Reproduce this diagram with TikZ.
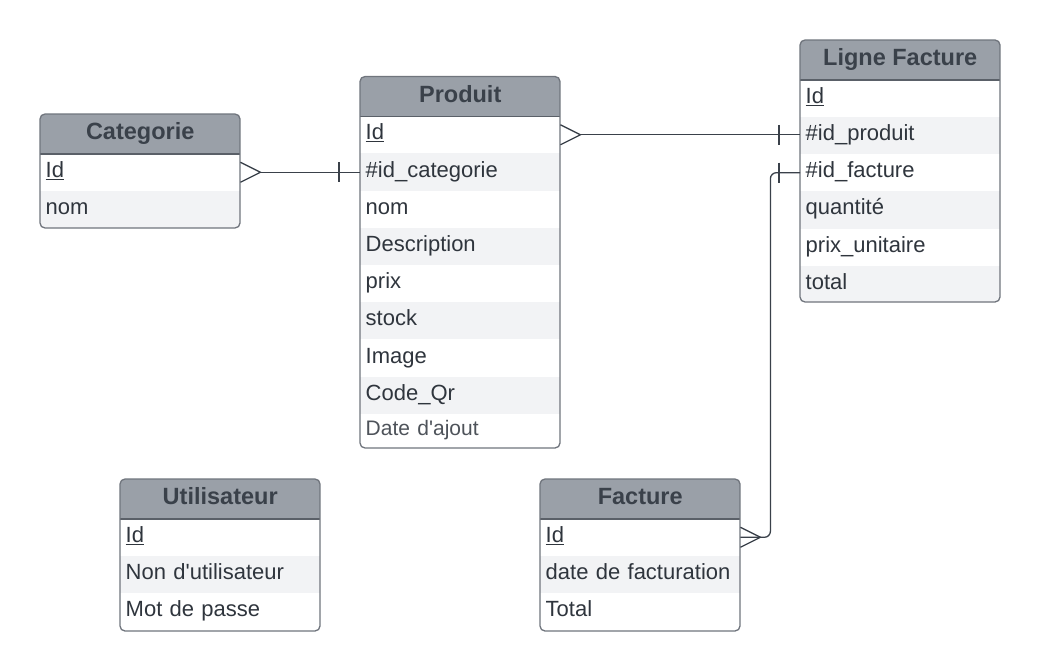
\documentclass[tikz,border=0pt]{standalone}
\usepackage{fontspec}
\setmainfont{Liberation Sans}
\usetikzlibrary{calc}
\definecolor{hdrfill}{HTML}{9AA0A8}
\definecolor{bordc}{HTML}{70757D}
\definecolor{sepc}{HTML}{5A6068}
\definecolor{hdrtext}{HTML}{3A414A}
\definecolor{rowalt}{HTML}{F2F3F5}
\definecolor{rowtext}{HTML}{2F353D}
\definecolor{linec}{HTML}{3A414A}
\tikzset{
  hdr/.style={anchor=north west, fill=hdrfill, text=hdrtext, minimum width=200pt,
    minimum height=39.5pt, inner sep=0pt, font=\fontsize{23.5}{27}\selectfont\bfseries,
    text height=17pt, text depth=5pt},
  rowbox/.style={anchor=north west, minimum width=200pt, minimum height=37.2pt,
    inner xsep=5.5pt, inner ysep=0pt, text width=189pt, align=left, text=rowtext,
    font=\fontsize{22}{26}\selectfont, text height=16pt, text depth=6pt},
  border/.style={draw=bordc, line width=1.3pt, rounded corners=5pt},
  sepline/.style={draw=sepc, line width=1.3pt},
  conn/.style={draw=linec, line width=1.3pt},
}
\newcommand\ertable[6]{%
  \begin{scope}
    \clip[rounded corners=5pt] (#2,#3) rectangle ({#2+200},#4);
    \node[hdr] (#1) at (#2,#3) {#5};
    \foreach \t [count=\i] in {#6} {
      \ifodd\i\relax \def\rf{white}\else\def\rf{rowalt}\fi
      \node[rowbox, fill=\rf] (#1-\i) at ({#2},{#3+39.5+(\i-1)*37.2}) {\t};
    }
  \end{scope}
  \draw[sepline] (#1.south west) -- (#1.south east);
  \draw[border] (#2,#3) rectangle ({#2+200},#4);
}
\begin{document}
\begin{tikzpicture}[x=1pt,y=-1pt]
\useasboundingbox (0,0) rectangle (1040,671);
\fill[white] (0,0) rectangle (1040,671);

\ertable{cat}{40}{114}{228}{Categorie}{{\underline{Id}},nom}
\ertable{prod}{360}{76.5}{448}{Produit}{{\underline{Id}},\#id\_categorie,nom,Description,prix,stock,Image,Code\_Qr,{\raisebox{2pt}{\color{rowtext!85!white}\fontsize{21}{25}\selectfont Date d\textquotesingle ajout}}}
\ertable{lig}{800}{40}{302}{Ligne Facture}{{\underline{Id}},\#id\_produit,\#id\_facture,quantité,prix\_unitaire,total}
\ertable{usr}{120}{479}{631}{Utilisateur}{{\underline{Id}},Non d\textquotesingle utilisateur,Mot de passe}
\ertable{fac}{540}{479}{631}{Facture}{{\underline{Id}},date de facturation,Total}

% Categorie -- Produit
\draw[conn] ($(cat-1.east)+(20,0)$) -- (cat-1.east -| prod-2.west);
\draw[conn] ($(cat-1.east)+(0,-10)$) -- ($(cat-1.east)+(20,0)$) -- ($(cat-1.east)+(0,10)$);
\draw[conn] ($(cat-1.east -| prod-2.west)+(-21,-10)$) -- ++(0,20);

% Produit -- Ligne Facture
\draw[conn] ($(prod-1.east)+(20,0)$) -- (prod-1.east -| lig-2.west);
\draw[conn] ($(prod-1.east)+(0,-10)$) -- ($(prod-1.east)+(20,0)$) -- ($(prod-1.east)+(0,10)$);
\draw[conn] ($(prod-1.east -| lig-2.west)+(-21,-10)$) -- ++(0,20);

% Facture -- Ligne Facture
\coordinate (bend) at ($(fac-1.east)+(30,0)$);
\draw[conn, rounded corners=6pt] (fac-1.east) -- (bend) |- (lig-3.west);
\draw[conn] ($(fac-1.east)+(0,-10)$) -- ($(fac-1.east)+(20,0)$) -- ($(fac-1.east)+(0,10)$);
\draw[conn] ($(lig-3.west)+(-21,-10)$) -- ++(0,20);
\end{tikzpicture}
\end{document}
